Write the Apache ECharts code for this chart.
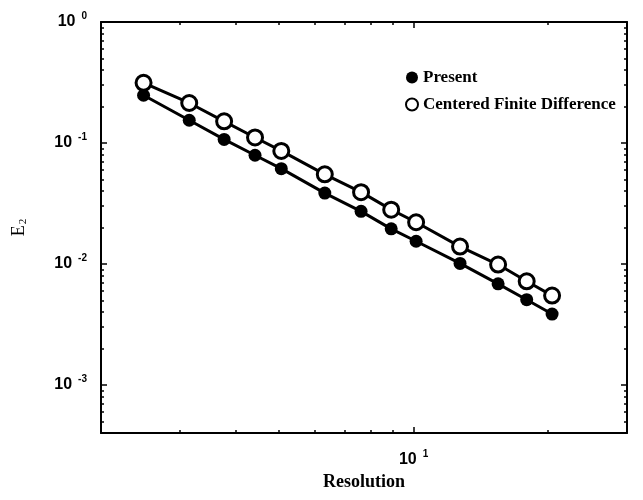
<!DOCTYPE html>
<html>
<head>
<meta charset="utf-8">
<script src="https://cdn.jsdelivr.net/npm/echarts@6/dist/echarts.min.js"></script>
<style>html,body{margin:0;padding:0;background:#fff;}#c{width:643px;height:500px;}</style>
</head>
<body>
<div id="c"></div>
<script>
const resolution = [2.49, 3.15, 3.77, 4.42, 5.06, 6.33, 7.63, 8.91, 10.13, 12.7, 15.45, 17.9, 20.4];
const present = [0.248, 0.154, 0.107, 0.0791, 0.0613, 0.0385, 0.0272, 0.0195, 0.0154, 0.0101, 0.00684, 0.00506, 0.00385];
const centered = [0.314, 0.214, 0.151, 0.111, 0.0859, 0.0550, 0.0392, 0.0281, 0.0221, 0.0139, 0.00988, 0.00718, 0.00547];
const seriesNames = ['Present', 'Centered Finite Difference'];
const xMinorTicks = [2, 3, 4, 5, 6, 7, 8, 9, 20, 30];
const yMinorTicks = [0.0005, 0.0006, 0.0007, 0.0008, 0.0009,
  0.002, 0.003, 0.004, 0.005, 0.006, 0.007, 0.008, 0.009,
  0.02, 0.03, 0.04, 0.05, 0.06, 0.07, 0.08, 0.09,
  0.2, 0.3, 0.4, 0.5, 0.6, 0.7, 0.8, 0.9];
const xMajorTicks = [10];
const yMajorTicks = [0.001, 0.01, 0.1, 1];

const X_MIN = 2, X_MAX = 30, Y_MIN = 0.0004, Y_MAX = 1;

function powLabel(v) {
  const e = Math.round(Math.log10(v));
  if (Math.abs(Math.log10(v) - e) > 1e-6) return '';
  return '{b|10}{s|' + e + '}';
}
const supRich = {
  b: {fontFamily: 'Liberation Sans', fontWeight: 'bold', fontSize: 16, color: '#000'},
  s: {fontFamily: 'Liberation Sans', fontWeight: 'bold', fontSize: 10, color: '#000', padding: [0, 0, 12, 6]}
};

function xAx(pos, major, labels) {
  return {
    type: 'log', logBase: 10, min: X_MIN, max: X_MAX, position: pos,
    axisLine: {show: major, lineStyle: {color: '#000', width: 2}},
    axisTick: {show: true, inside: true, length: major ? 6 : 3, customValues: major ? xMajorTicks : xMinorTicks, lineStyle: {color: '#000', width: 1.5}},
    axisLabel: {show: labels, customValues: xMajorTicks, formatter: powLabel, rich: supRich, margin: 16},
    splitLine: {show: false}, minorTick: {show: false},
    name: labels ? 'Resolution' : '',
    nameLocation: 'middle', nameGap: 40,
    nameTextStyle: {fontFamily: 'Liberation Serif', fontWeight: 'bold', fontSize: 18, color: '#000'}
  };
}
function yAx(pos, major, labels) {
  return {
    type: 'log', logBase: 10, min: Y_MIN, max: Y_MAX, position: pos,
    axisLine: {show: major, lineStyle: {color: '#000', width: 2}},
    axisTick: {show: true, inside: true, length: major ? 6 : 3, customValues: major ? yMajorTicks : yMinorTicks, lineStyle: {color: '#000', width: 1.5}},
    axisLabel: {show: labels, customValues: yMajorTicks, formatter: powLabel, rich: supRich, margin: 14},
    splitLine: {show: false}, minorTick: {show: false},
    name: labels ? '{e|E}{s|2}' : '',
    nameLocation: 'middle', nameGap: 72, nameRotate: 90,
    nameTextStyle: {rich: {
      e: {fontFamily: 'Liberation Serif', fontSize: 18, color: '#000'},
      s: {fontFamily: 'Liberation Serif', fontSize: 11, color: '#000', padding: [8, 0, 0, 1]}
    }}
  };
}

const chart = echarts.init(document.getElementById('c'), null, {renderer: 'canvas'});
chart.setOption({
  animation: false,
  backgroundColor: '#fff',
  grid: {left: 101, top: 22, right: 16, bottom: 67, containLabel: false, outerBoundsMode: 'none'},
  xAxis: [xAx('bottom', true, true), xAx('bottom', false, false), xAx('top', true, false), xAx('top', false, false)],
  yAxis: [yAx('left', true, true), yAx('left', false, false), yAx('right', true, false), yAx('right', false, false)],
  legend: {
    orient: 'vertical', left: 400, top: 64, itemGap: 10,
    itemWidth: 12, itemHeight: 12,
    textStyle: {fontFamily: 'Liberation Serif', fontWeight: 'bold', fontSize: 17, color: '#000'},
    data: [{name: seriesNames[0], icon: 'circle'}, {name: seriesNames[1], icon: 'circle'}]
  },
  series: [
    {
      name: seriesNames[0], type: 'line', xAxisIndex: 0, yAxisIndex: 0,
      data: resolution.map((x, i) => [x, present[i]]),
      symbol: 'circle', symbolSize: 13,
      lineStyle: {color: '#000', width: 3},
      itemStyle: {color: '#000', borderColor: '#000', borderWidth: 0}
    },
    {
      name: seriesNames[1], type: 'line', xAxisIndex: 0, yAxisIndex: 0,
      data: resolution.map((x, i) => [x, centered[i]]),
      symbol: 'circle', symbolSize: 15, showAllSymbol: true,
      lineStyle: {color: '#000', width: 3},
      itemStyle: {color: '#fff', borderColor: '#000', borderWidth: 3}
    }
  ]
});
</script>
</body>
</html>
